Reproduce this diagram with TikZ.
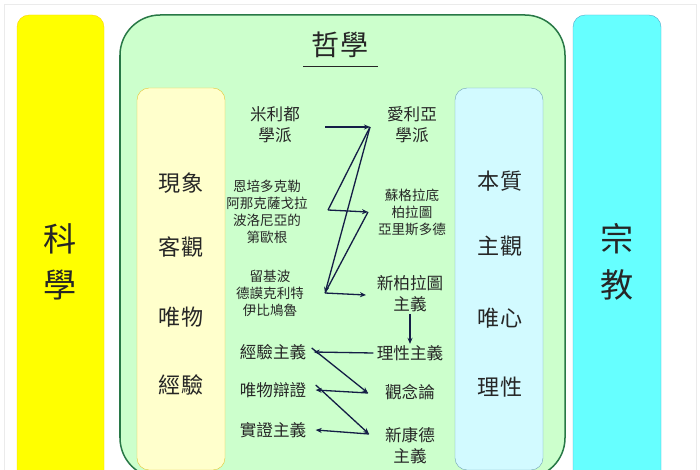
\documentclass[tikz,border=0pt]{standalone}
\usepackage{fontspec}
\setmainfont{Noto Sans CJK TC}
\usetikzlibrary{arrows.meta}
\definecolor{ybar}{RGB}{255,255,0}
\definecolor{cbar}{RGB}{102,255,255}
\definecolor{gbox}{RGB}{204,255,204}
\definecolor{gline}{RGB}{40,120,70}
\definecolor{ybox}{RGB}{255,255,204}
\definecolor{cbox}{RGB}{210,250,255}
\definecolor{arrc}{RGB}{20,30,70}
\begin{document}
\begin{tikzpicture}[x=0.035cm,y=-0.035cm,
 big/.style={font=\fontsize{33}{40}\selectfont,align=center,text=black!85},
 mid/.style={font=\fontsize{22}{26}\selectfont,align=center,text=black!85},
 sml/.style={font=\fontsize{13.5}{17}\selectfont,align=center,text=black!85},
 med/.style={font=\fontsize{16.5}{21}\selectfont,align=center,text=black!85},
 arr/.style={draw=arrc,line width=1.3pt,-{Stealth[length=6pt,width=5pt]}},
 ln/.style={draw=arrc,line width=1.3pt}]
\useasboundingbox (0,0) rectangle (700,470);
\clip (0,0) rectangle (700,470);
\fill[white] (0,0) rectangle (700,470);
\draw[black!8] (4,4) rectangle (696,480);
\draw[fill=ybar,draw=yellow!70!orange,rounded corners=12] (17,15) rectangle (104,500);
\draw[fill=cbar,draw=cyan!60!gray,rounded corners=12] (573,15) rectangle (661,500);
\draw[fill=gbox,draw=gline,line width=1.5pt,rounded corners=40] (120,15) rectangle (565,478);
\draw[fill=ybox,draw=yellow!55!brown,rounded corners=12] (137,88) rectangle (225,470);
\draw[fill=cbox,draw=cyan!40!gray,rounded corners=12] (455,88) rectangle (543,470);
\node[big] (sci) at (60,262) {科\\[6pt]學};
\node[big] (rel) at (617,262) {宗\\[6pt]教};
\node[font=\fontsize{28}{30}\selectfont,text=black!85] (phil) at (340,45) {哲學};
\draw[black!85,line width=1pt] (303,67) -- (378,67);
\node[mid] (l1) at (181,183) {現象};
\node[mid] (l2) at (181,247) {客觀};
\node[mid] (l3) at (181,317) {唯物};
\node[mid] (l4) at (181,385) {經驗};
\node[mid] (r1) at (500,181) {本質};
\node[mid] (r2) at (500,246) {主觀};
\node[mid] (r3) at (500,318) {唯心};
\node[mid] (r4) at (500,387) {理性};
\node[med] (mil) at (275,125) {米利都\\學派};
\node[med] (ele) at (412,125) {愛利亞\\學派};
\node[sml] (emp) at (267,212) {恩培多克勒\\阿那克薩戈拉\\波洛尼亞的\\第歐根};
\node[sml] (soc) at (412,212) {蘇格拉底\\柏拉圖\\亞里斯多德};
\node[sml] (leu) at (270,293) {留基波\\德謨克利特\\伊比鳩魯};
\node[med] (neo) at (410,294) {新柏拉圖\\主義};
\node[med] (rat) at (410,353) {理性主義};
\node[med] (emr) at (273,352) {經驗主義};
\node[med] (dia) at (273,390) {唯物辯證};
\node[med] (ide) at (410,392) {觀念論};
\node[med] (pos) at (273,430) {實證主義};
\node[med] (nka) at (410,446) {新康德\\主義};
\coordinate (a1) at (325,127); \coordinate (a2) at (370,127);
\coordinate (b1) at (328,210); \coordinate (b2) at (368,212);
\coordinate (c1) at (325,293); \coordinate (c2) at (366,295);
\draw[arr] (a1) -- (a2);
\draw[ln] (a2) -- (b1);
\draw[arr] (b1) -- (b2);
\draw[ln] (b2) -- (c1);
\draw[arr] (a2) -- (c1);
\draw[arr] (c1) -- (c2);
\draw[arr] ([yshift=2]neo.south) -- ([yshift=-2]rat.north);
\draw[arr] (rat.west) -- ([xshift=4]emr.east);
\draw[arr] ([xshift=2,yshift=4]emr.east) -- (368,393) coordinate (d1);
\draw[arr] (d1) -- ([xshift=6]dia.east);
\draw[arr] ([xshift=6,yshift=5]dia.east) -- (369,434) coordinate (e1);
\draw[arr] (e1) -- ([xshift=6]pos.east);
\end{tikzpicture}
\end{document}
